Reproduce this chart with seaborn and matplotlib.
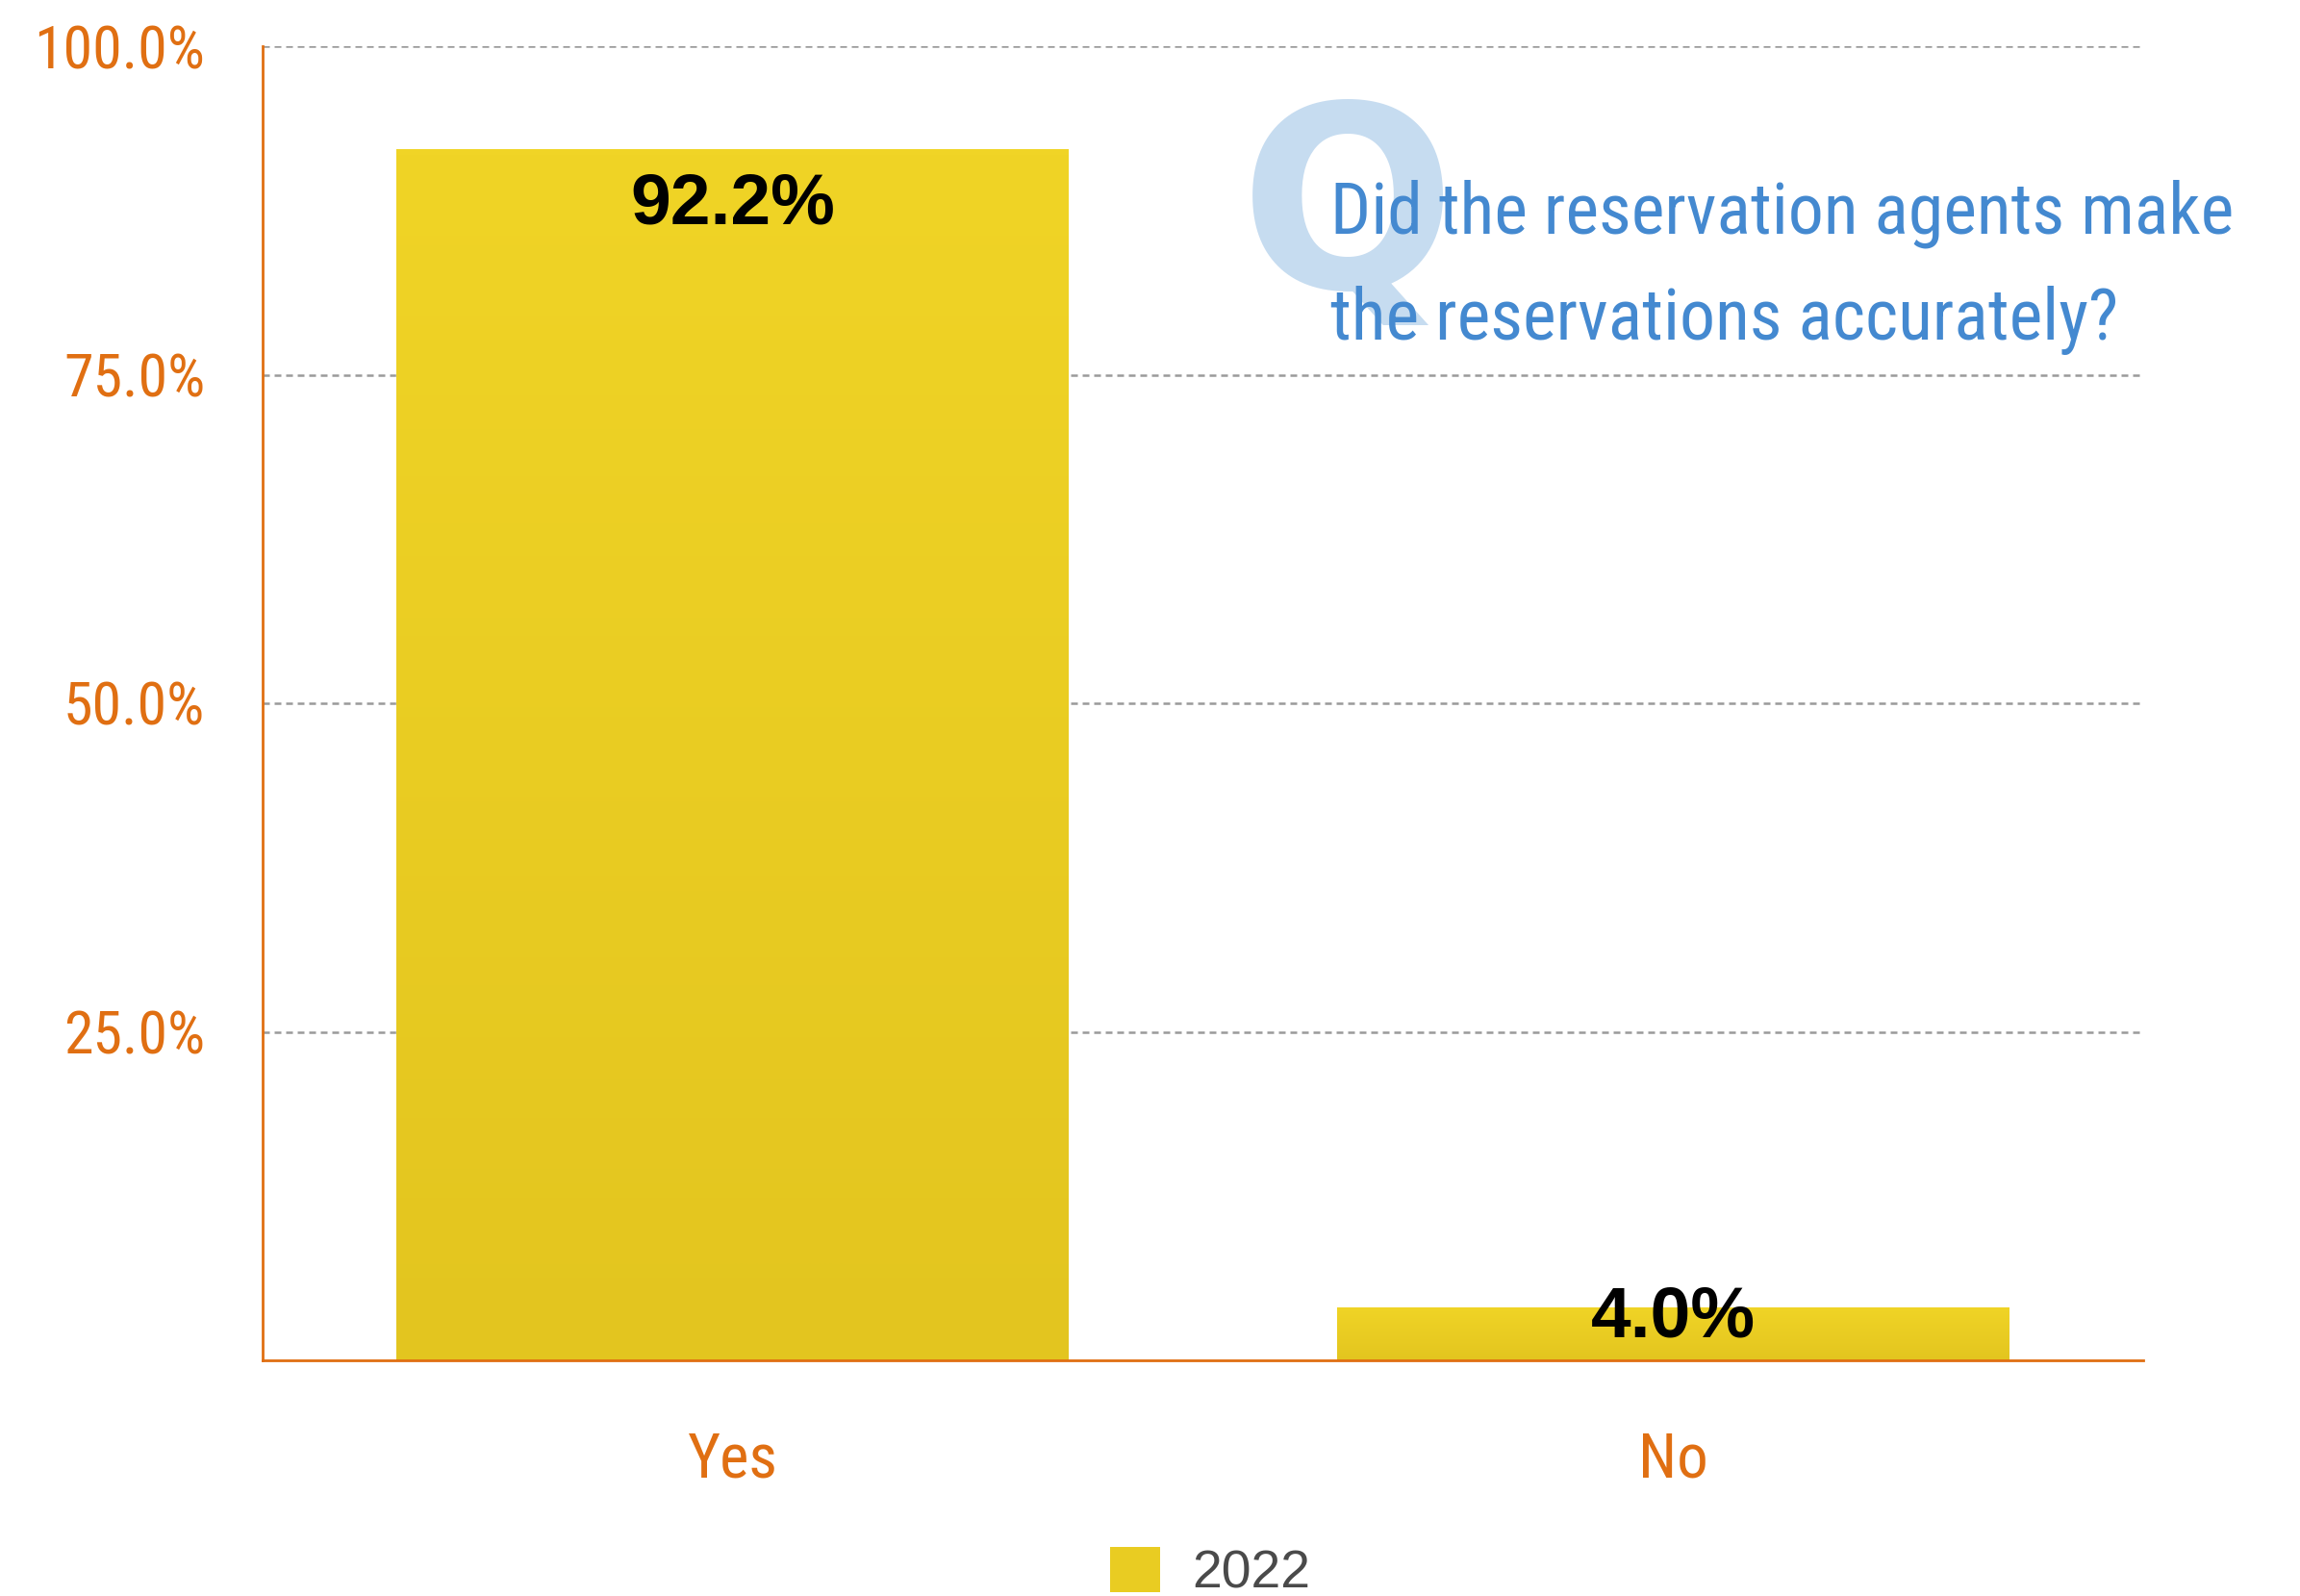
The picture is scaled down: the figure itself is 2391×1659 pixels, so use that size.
import numpy as np
import pandas as pd
import matplotlib
matplotlib.use("Agg")
import matplotlib.pyplot as plt
import seaborn as sns
from matplotlib import font_manager
from matplotlib.font_manager import FontProperties
from matplotlib.textpath import TextPath
from matplotlib.patches import Patch
from matplotlib.colors import LinearSegmentedColormap

# ---- data -------------------------------------------------------------
categories = ["Yes", "No"]
shares_2022 = [92.2, 4.0]
series_name = "2022"
y_ticks = [25, 50, 75, 100]
y_tick_labels = ["25.0%", "50.0%", "75.0%", "100.0%"]
question = "Did the reservation agents make\nthe reservations accurately?"

# ---- style ------------------------------------------------------------
ORANGE = "#E06F12"
BLUE = "#4489D0"
Q_BLUE = "#C6DCF0"
BAR_TOP = "#F0D426"
BAR_BOTTOM = "#E3C51F"
GRID = "#9A9A9A"

W, H, DPI = 2391, 1659, 100

sns.set_theme(style="white")
plt.rcParams["font.family"] = ["Liberation Sans", "DejaVu Sans"]


def _is_condensed(entry):
    st = entry.stretch
    if isinstance(st, str):
        cond = "condensed" in st
    else:
        cond = st < 500
    tag = entry.name + " " + entry.fname
    return cond or ("Narrow" in tag) or ("Condensed" in tag)


def _is_regular(entry):
    w = entry.weight
    w = {"normal": 400, "regular": 400, "book": 400, "medium": 500}.get(w, w)
    try:
        w = int(w)
    except (TypeError, ValueError):
        return False
    return entry.style == "normal" and 350 <= w <= 450


def narrow_font():
    """A narrow regular sans face for the labels, if one is installed."""
    prefs = ["Liberation Sans Narrow", "Noto Sans", "Open Sans",
             "Roboto", "DejaVu Sans", "Lato", "Inter"]
    found = [f for f in font_manager.fontManager.ttflist
             if _is_condensed(f) and _is_regular(f)
             and "Mono" not in f.name and "Serif" not in f.name
             and "CJK" not in f.name]

    def rank(f):
        for i, p in enumerate(prefs):
            if f.name.startswith(p):
                semi = "Semi" in (f.name + f.fname) or str(f.stretch).startswith("semi")
                extra = "Extra" in (f.name + f.fname) or str(f.stretch).startswith(("extra", "ultra"))
                return (i, 1 if (semi or extra) else 0)
        return (len(prefs), 0)

    if found:
        return FontProperties(fname=sorted(found, key=rank)[0].fname)
    return FontProperties(family="Liberation Sans")


NARROW = narrow_font()


def fit_size(text, prop, target_px, max_pt):
    """Point size that gives `text` an ink width of target_px."""
    ext = TextPath((0, 0), text, size=100, prop=prop).get_extents()
    width_px_at_100 = ext.width * DPI / 72
    return min(max_pt, 100 * target_px / width_px_at_100)


fig = plt.figure(figsize=(W / DPI, H / DPI), dpi=DPI, facecolor="white")
ax = fig.add_axes([273 / W, 1 - 1414 / H, (2228 - 273) / W, (1414 - 48) / H])

df = pd.DataFrame({"answer": categories, "share": shares_2022})
sns.barplot(data=df, x="answer", y="share", color=BAR_TOP, saturation=1,
            width=0.715, ax=ax, zorder=3)

# vertical gradient fill on each bar
grad_cmap = LinearSegmentedColormap.from_list("bar", [BAR_BOTTOM, BAR_TOP])
gradient = np.linspace(0, 1, 256).reshape(-1, 1)
for bar in list(ax.patches):
    x0, y0 = bar.get_x(), bar.get_y()
    w, h = bar.get_width(), bar.get_height()
    im = ax.imshow(gradient, extent=[x0, x0 + w, y0, y0 + h], origin="lower",
                   cmap=grad_cmap, aspect="auto", zorder=3.1,
                   interpolation="bilinear")
    im.set_clip_path(bar)

ax.set_xlim(-0.5, 1.5)
ax.set_ylim(0, 100)

# value labels
for i, v in enumerate(shares_2022):
    inside = v >= 10
    ax.annotate(f"{v:.1f}%", xy=(i, v), xytext=(0, -17 if inside else -8),
                textcoords="offset points", ha="center",
                va="top" if inside else "center",
                fontsize=54, fontweight="bold", color="black",
                family="Liberation Sans", zorder=5)

# axes styling
ax.set_xlabel("")
ax.set_ylabel("")
ax.set_yticks(y_ticks, y_tick_labels)
ax.tick_params(axis="y", length=0, pad=43, labelcolor=ORANGE)
ax.tick_params(axis="x", length=0, pad=52, labelcolor=ORANGE)
ytick_size = fit_size("100.0%", NARROW, 170, 45)
for lab in ax.get_yticklabels():
    lab.set_fontproperties(NARROW)
    lab.set_fontsize(ytick_size)
xtick_size = fit_size("Yes", NARROW, 90, 52)
for lab in ax.get_xticklabels():
    lab.set_fontproperties(NARROW)
    lab.set_fontsize(xtick_size)

ax.yaxis.grid(True, color=GRID, linestyle=(0, (2.8, 2.0)), linewidth=1.8)
ax.xaxis.grid(False)
ax.set_axisbelow(True)
for side in ("top", "right"):
    ax.spines[side].set_visible(False)
for side in ("left", "bottom"):
    ax.spines[side].set_color(ORANGE)
    ax.spines[side].set_linewidth(2.0)
    ax.spines[side].set_zorder(4)

# question callout with a large faded "Q"
fig.text(1289 / W, 1 - 300 / H, "Q", color=Q_BLUE, fontsize=190,
         fontweight="bold", family="DejaVu Sans", ha="left", va="baseline",
         zorder=1)
q_lines = question.split("\n")
q_size = fit_size(q_lines[0], NARROW, 930, 56)
baselines = [243, 353]
for line, yb in zip(q_lines, baselines):
    fig.text(1383 / W, 1 - yb / H, line, color=BLUE, fontproperties=NARROW,
             fontsize=q_size, ha="left", va="baseline", zorder=2)

# legend
handle = Patch(facecolor="#E9CC22", edgecolor="none", label=series_name)
leg = fig.legend(handles=[handle], loc="center",
                 bbox_to_anchor=(1258 / W, 1 - 1635 / H),
                 frameon=False, prop={"family": "Liberation Sans", "size": 40},
                 handlelength=0.93, handleheight=0.93, handletextpad=0.6,
                 borderpad=0, borderaxespad=0)
for t in leg.get_texts():
    t.set_color("#4A4A4A")

fig.savefig("out.png", dpi=DPI, facecolor="white")
